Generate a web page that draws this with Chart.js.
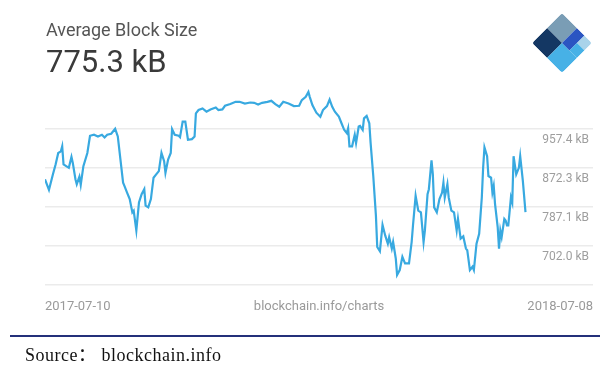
<!DOCTYPE html>
<html>
<head>
<meta charset="utf-8">
<script src="https://cdn.jsdelivr.net/npm/chart.js@4.4.1/dist/chart.umd.min.js"></script>
<style>
  body { margin: 0; background: #fff; }
  #wrap { position: relative; width: 600px; height: 372px; overflow: hidden; }
  #myChart { position: absolute; left: 0; top: 0; }
  .ttl { position: absolute; left: 46px; font-family: Roboto, sans-serif; line-height: 1; white-space: nowrap; }
  #title { top: 21px; font-size: 18px; color: #555; }
  #value { top: 46px; font-size: 31px; color: #3a3a3a; }
  #logo { position: absolute; left: 530px; top: 11px; }
  #rule { position: absolute; left: 10px; top: 335px; width: 590px; height: 2px; background: #24307a; }
  #source { position: absolute; left: 25px; top: 346px; font-family: "Liberation Serif", "Noto Sans CJK SC", serif; font-size: 18px; letter-spacing: 0.5px; color: #111; line-height: 1; white-space: nowrap; }
</style>
</head>
<body>
<div id="wrap">
  <canvas id="myChart" width="600" height="372"></canvas>
  <div class="ttl" id="title">Average Block Size</div>
  <div class="ttl" id="value">775.3 kB</div>
  <svg id="logo" width="64" height="64" viewBox="-32 -32 64 64">
    <defs><clipPath id="cl"><rect x="-21.2" y="-21.2" width="42.4" height="42.4" rx="3"/></clipPath></defs>
    <g transform="rotate(45)" clip-path="url(#cl)">
      <rect x="-21.2" y="-21.2" width="21.2" height="21.2" fill="#7a9db5"/>
      <rect x="-21.2" y="0" width="21.2" height="21.2" fill="#143763"/>
      <rect x="0" y="0" width="21.2" height="21.2" fill="#47b1e6"/>
      <rect x="0" y="-21.2" width="10.6" height="21.2" fill="#2b55c2"/>
      <rect x="10.6" y="-21.2" width="10.6" height="10.6" fill="#a9d3ea"/>
      <rect x="10.6" y="-10.6" width="10.6" height="10.6" fill="#47b1e6"/>
    </g>
  </svg>
  <div id="rule"></div>
  <div id="source">Source：&nbsp;blockchain.info</div>
</div>
<script>
// days since 2017-07-10
const days = [
  0, 3, 6, 8, 10, 12, 13, 14, 16, 18,
  20, 21, 23, 24, 26, 27, 29, 32, 34, 37,
  40, 43, 45, 47, 50, 53, 55, 57, 59, 60,
  62, 64, 66, 67, 69, 71, 73, 75, 76, 78,
  80, 82, 84, 86, 88, 90, 91, 93, 95, 96,
  98, 101, 102, 104, 106, 108, 111, 113, 114, 116,
  119, 122, 125, 129, 131, 134, 136, 140, 144, 147,
  151, 155, 158, 161, 164, 168, 171, 174, 177, 180,
  184, 188, 192, 194, 197, 199, 200, 202, 205, 208,
  210, 213, 215, 217, 219, 222, 224, 226, 228, 229,
  230, 232, 234, 235, 237, 238, 240, 241, 243, 245,
  246, 248, 250, 251, 253, 255, 257, 259, 260, 262,
  263, 265, 266, 268, 270, 272, 275, 277, 278, 280,
  282, 284, 286, 287, 289, 290, 292, 293, 294, 296,
  298, 300, 301, 302, 304, 305, 307, 309, 311, 312,
  314, 316, 318, 319, 321, 323, 324, 326, 328, 330,
  331, 332, 334, 335, 337, 338, 339, 340, 342, 343,
  344, 345, 347, 348, 349, 350, 352, 353, 354, 356,
  358, 359, 361, 363
];

// average block size, kB
const sizes = [
  847.5, 824.3, 858.4, 880.1, 905.3, 908.9, 919.8, 880.1, 876.4, 872.7,
  896.6, 883.6, 847.5, 836.7, 853.2, 835.1, 876.4, 905.3, 943.0, 945.2,
  941.5, 945.2, 939.3, 945.2, 947.4, 958.2, 941.5, 890.9, 840.1, 833.0,
  818.4, 804.1, 775.0, 778.7, 735.3, 796.7, 814.9, 825.8, 789.5, 785.9,
  804.1, 851.0, 858.4, 865.5, 905.3, 887.2, 861.8, 890.9, 905.3, 957.4,
  945.2, 943.0, 940.0, 974.1, 974.1, 934.3, 935.7, 941.5, 992.1, 999.5,
  1003.0, 995.8, 1000.8, 1005.1, 999.5, 1000.8, 1008.8, 1012.5, 1017.5, 1017.5,
  1013.8, 1016.0, 1015.3, 1011.6, 1015.3, 1017.5, 1019.7, 1012.5, 1006.6, 1017.5,
  1013.8, 1008.2, 1008.8, 1021.2, 1028.4, 1039.2, 1028.4, 1010.3, 993.6, 984.9,
  999.5, 1008.2, 1022.5, 1006.6, 995.8, 984.9, 970.4, 956.1, 948.7, 959.5,
  919.8, 919.8, 945.2, 927.0, 963.2, 964.7, 956.1, 981.2, 986.5, 970.4,
  927.0, 854.7, 767.8, 699.0, 689.7, 747.6, 724.4, 706.4, 720.7, 695.5,
  709.9, 673.8, 637.6, 648.4, 677.3, 663.0, 663.0, 709.9, 746.1, 811.3,
  778.7, 775.0, 709.9, 735.3, 814.9, 825.8, 888.8, 858.4, 785.9, 775.0,
  804.1, 818.4, 840.1, 807.6, 836.7, 807.6, 778.7, 775.0, 735.3, 760.7,
  717.2, 722.2, 695.5, 691.9, 648.4, 655.6, 648.4, 706.4, 728.1, 807.6,
  872.7, 917.6, 898.1, 854.7, 851.0, 818.4, 833.0, 793.2, 742.4, 695.5,
  735.3, 720.7, 760.7, 757.0, 746.1, 746.1, 807.6, 796.7, 898.1, 858.4,
  872.7, 898.1, 843.8, 775.3
];

const yTicks = [616.9, 702.0, 787.1, 872.3, 957.4];
const xTicks = [0, 207, 414];
const xTickLabels = ['2017-07-10', 'blockchain.info/charts', '2018-07-08'];

let points = [];
for (let i = 0; i < days.length; i++) {
  points.push({ x: days[i], y: sizes[i] });
}

const ctx = document.getElementById('myChart');

new Chart(ctx, {
  type: 'line',
  data: {
    datasets: [{
      label: 'Average Block Size',
      data: points,
      borderColor: '#38a9e0',
      borderWidth: 2.2,
      pointRadius: 0,
      tension: 0,
      fill: false
    }]
  },
  options: {
    responsive: false,
    animation: false,
    devicePixelRatio: 1,
    layout: {
      padding: { top: 87, left: 45, right: 7, bottom: 42 }
    },
    plugins: {
      legend: { display: false },
      tooltip: { enabled: false }
    },
    scales: {
      x: {
        type: 'linear',
        min: 0,
        max: 414,
        grid: { display: false, drawTicks: false, tickLength: 0 },
        border: { display: false },
        afterBuildTicks: (scale) => {
          scale.ticks = xTicks.map(v => ({ value: v }));
        },
        // labels are inner-aligned, so no side padding is needed
        afterFit: (scale) => {
          scale.paddingLeft = 0;
          scale.paddingRight = 0;
        },
        ticks: {
          align: 'inner',
          padding: 15,
          maxRotation: 0,
          autoSkip: false,
          color: '#9a9a9a',
          font: { family: 'Roboto', size: 13 },
          callback: (value, index) => xTickLabels[index]
        }
      },
      y: {
        position: 'right',
        min: 616.9,
        max: 1050,
        grid: { color: '#ebebeb', lineWidth: 1.5, drawTicks: false, tickLength: 0 },
        border: { display: false },
        afterBuildTicks: (scale) => {
          scale.ticks = yTicks.map(v => ({ value: v }));
        },
        afterFit: (scale) => {
          scale.width = 0;
        },
        ticks: {
          mirror: true,
          padding: -4,
          labelOffset: 11,
          color: '#9e9e9e',
          font: { family: 'Roboto', size: 12 },
          callback: (value, index) => index === 0 ? '' : value.toFixed(1) + ' kB'
        }
      }
    }
  }
});
</script>
</body>
</html>
